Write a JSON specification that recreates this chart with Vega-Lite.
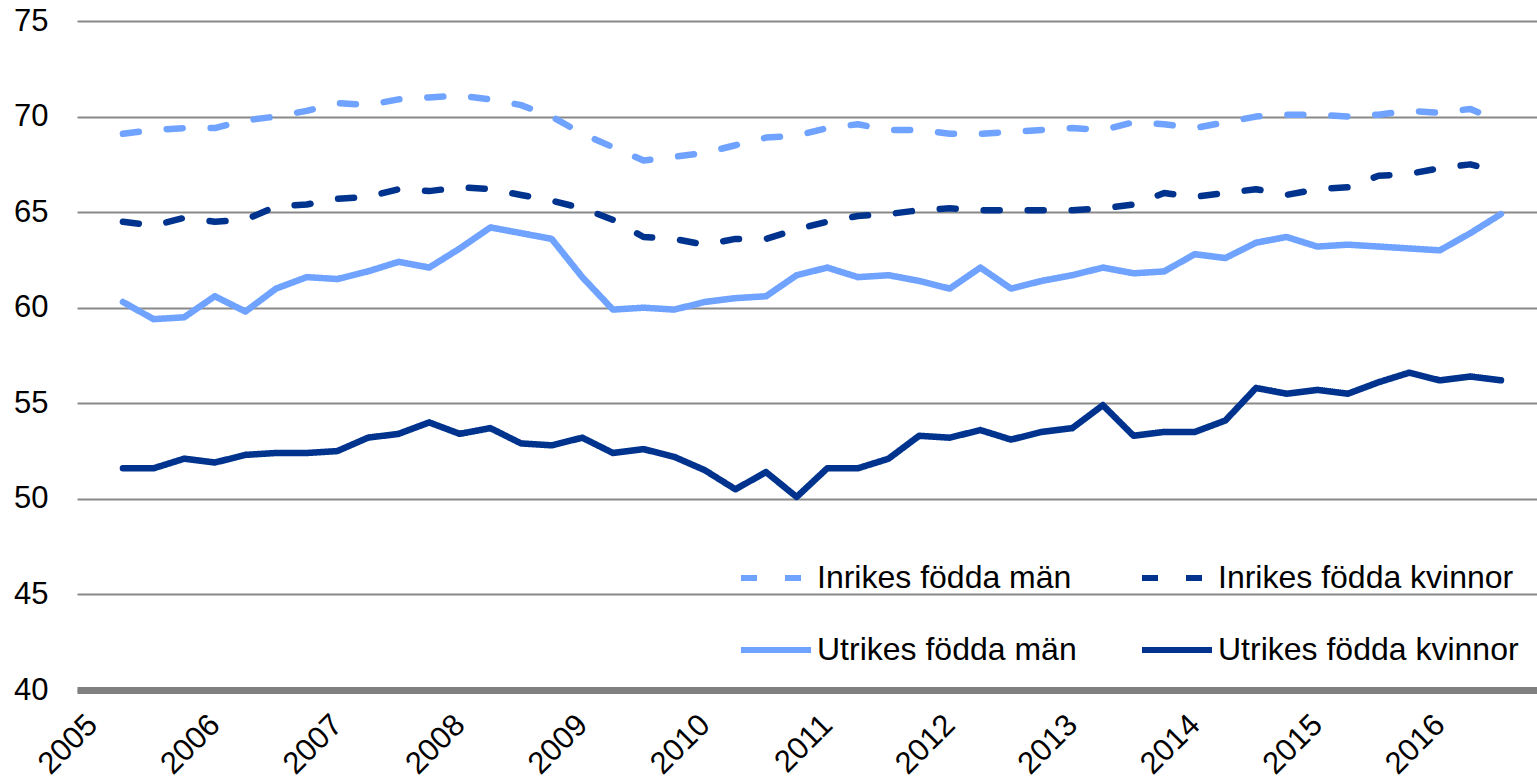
{
  "$schema": "https://vega.github.io/schema/vega-lite/v6.json",
  "width": 1460,
  "height": 669,
  "autosize": {"type": "none"},
  "padding": {"left": 77, "top": 21, "right": 0, "bottom": 92},
  "background": "white",
  "data": {"values": [
    {"t":2005.25,"serie":"Inrikes födda män","v":69.1},{"t":2005.5,"serie":"Inrikes födda män","v":69.3},{"t":2005.75,"serie":"Inrikes födda män","v":69.4},{"t":2006,"serie":"Inrikes födda män","v":69.4},
    {"t":2006.25,"serie":"Inrikes födda män","v":69.8},{"t":2006.5,"serie":"Inrikes födda män","v":70.0},{"t":2006.75,"serie":"Inrikes födda män","v":70.3},{"t":2007,"serie":"Inrikes födda män","v":70.7},
    {"t":2007.25,"serie":"Inrikes födda män","v":70.6},{"t":2007.5,"serie":"Inrikes födda män","v":70.9},{"t":2007.75,"serie":"Inrikes födda män","v":71.0},{"t":2008,"serie":"Inrikes födda män","v":71.1},
    {"t":2008.25,"serie":"Inrikes födda män","v":70.9},{"t":2008.5,"serie":"Inrikes födda män","v":70.6},{"t":2008.75,"serie":"Inrikes födda män","v":70.0},{"t":2009,"serie":"Inrikes födda män","v":69.1},
    {"t":2009.25,"serie":"Inrikes födda män","v":68.4},{"t":2009.5,"serie":"Inrikes födda män","v":67.7},{"t":2009.75,"serie":"Inrikes födda män","v":67.9},{"t":2010,"serie":"Inrikes födda män","v":68.1},
    {"t":2010.25,"serie":"Inrikes födda män","v":68.5},{"t":2010.5,"serie":"Inrikes födda män","v":68.9},{"t":2010.75,"serie":"Inrikes födda män","v":69.0},{"t":2011,"serie":"Inrikes födda män","v":69.4},
    {"t":2011.25,"serie":"Inrikes födda män","v":69.6},{"t":2011.5,"serie":"Inrikes födda män","v":69.3},{"t":2011.75,"serie":"Inrikes födda män","v":69.3},{"t":2012,"serie":"Inrikes födda män","v":69.1},
    {"t":2012.25,"serie":"Inrikes födda män","v":69.1},{"t":2012.5,"serie":"Inrikes födda män","v":69.2},{"t":2012.75,"serie":"Inrikes födda män","v":69.3},{"t":2013,"serie":"Inrikes födda män","v":69.4},
    {"t":2013.25,"serie":"Inrikes födda män","v":69.3},{"t":2013.5,"serie":"Inrikes födda män","v":69.7},{"t":2013.75,"serie":"Inrikes födda män","v":69.6},{"t":2014,"serie":"Inrikes födda män","v":69.4},
    {"t":2014.25,"serie":"Inrikes födda män","v":69.7},{"t":2014.5,"serie":"Inrikes födda män","v":70.0},{"t":2014.75,"serie":"Inrikes födda män","v":70.1},{"t":2015,"serie":"Inrikes födda män","v":70.1},
    {"t":2015.25,"serie":"Inrikes födda män","v":70.0},{"t":2015.5,"serie":"Inrikes födda män","v":70.1},{"t":2015.75,"serie":"Inrikes födda män","v":70.3},{"t":2016,"serie":"Inrikes födda män","v":70.2},
    {"t":2016.25,"serie":"Inrikes födda män","v":70.4},{"t":2016.5,"serie":"Inrikes födda män","v":69.7},

    {"t":2005.25,"serie":"Inrikes födda kvinnor","v":64.5},{"t":2005.5,"serie":"Inrikes födda kvinnor","v":64.3},{"t":2005.75,"serie":"Inrikes födda kvinnor","v":64.7},{"t":2006,"serie":"Inrikes födda kvinnor","v":64.5},
    {"t":2006.25,"serie":"Inrikes födda kvinnor","v":64.6},{"t":2006.5,"serie":"Inrikes födda kvinnor","v":65.3},{"t":2006.75,"serie":"Inrikes födda kvinnor","v":65.4},{"t":2007,"serie":"Inrikes födda kvinnor","v":65.7},
    {"t":2007.25,"serie":"Inrikes födda kvinnor","v":65.8},{"t":2007.5,"serie":"Inrikes födda kvinnor","v":66.2},{"t":2007.75,"serie":"Inrikes födda kvinnor","v":66.1},{"t":2008,"serie":"Inrikes födda kvinnor","v":66.3},
    {"t":2008.25,"serie":"Inrikes födda kvinnor","v":66.2},{"t":2008.5,"serie":"Inrikes födda kvinnor","v":65.9},{"t":2008.75,"serie":"Inrikes födda kvinnor","v":65.6},{"t":2009,"serie":"Inrikes födda kvinnor","v":65.2},
    {"t":2009.25,"serie":"Inrikes födda kvinnor","v":64.6},{"t":2009.5,"serie":"Inrikes födda kvinnor","v":63.7},{"t":2009.75,"serie":"Inrikes födda kvinnor","v":63.6},{"t":2010,"serie":"Inrikes födda kvinnor","v":63.3},
    {"t":2010.25,"serie":"Inrikes födda kvinnor","v":63.6},{"t":2010.5,"serie":"Inrikes födda kvinnor","v":63.6},{"t":2010.75,"serie":"Inrikes födda kvinnor","v":64.1},{"t":2011,"serie":"Inrikes födda kvinnor","v":64.5},
    {"t":2011.25,"serie":"Inrikes födda kvinnor","v":64.8},{"t":2011.5,"serie":"Inrikes födda kvinnor","v":64.9},{"t":2011.75,"serie":"Inrikes födda kvinnor","v":65.1},{"t":2012,"serie":"Inrikes födda kvinnor","v":65.2},
    {"t":2012.25,"serie":"Inrikes födda kvinnor","v":65.1},{"t":2012.5,"serie":"Inrikes födda kvinnor","v":65.1},{"t":2012.75,"serie":"Inrikes födda kvinnor","v":65.1},{"t":2013,"serie":"Inrikes födda kvinnor","v":65.1},
    {"t":2013.25,"serie":"Inrikes födda kvinnor","v":65.2},{"t":2013.5,"serie":"Inrikes födda kvinnor","v":65.4},{"t":2013.75,"serie":"Inrikes födda kvinnor","v":66.0},{"t":2014,"serie":"Inrikes födda kvinnor","v":65.8},
    {"t":2014.25,"serie":"Inrikes födda kvinnor","v":66.0},{"t":2014.5,"serie":"Inrikes födda kvinnor","v":66.2},{"t":2014.75,"serie":"Inrikes födda kvinnor","v":65.9},{"t":2015,"serie":"Inrikes födda kvinnor","v":66.2},
    {"t":2015.25,"serie":"Inrikes födda kvinnor","v":66.3},{"t":2015.5,"serie":"Inrikes födda kvinnor","v":66.9},{"t":2015.75,"serie":"Inrikes födda kvinnor","v":67.0},{"t":2016,"serie":"Inrikes födda kvinnor","v":67.3},
    {"t":2016.25,"serie":"Inrikes födda kvinnor","v":67.5},{"t":2016.5,"serie":"Inrikes födda kvinnor","v":67.1},

    {"t":2005.25,"serie":"Utrikes födda män","v":60.3},{"t":2005.5,"serie":"Utrikes födda män","v":59.4},{"t":2005.75,"serie":"Utrikes födda män","v":59.5},{"t":2006,"serie":"Utrikes födda män","v":60.6},
    {"t":2006.25,"serie":"Utrikes födda män","v":59.8},{"t":2006.5,"serie":"Utrikes födda män","v":61.0},{"t":2006.75,"serie":"Utrikes födda män","v":61.6},{"t":2007,"serie":"Utrikes födda män","v":61.5},
    {"t":2007.25,"serie":"Utrikes födda män","v":61.9},{"t":2007.5,"serie":"Utrikes födda män","v":62.4},{"t":2007.75,"serie":"Utrikes födda män","v":62.1},{"t":2008,"serie":"Utrikes födda män","v":63.1},
    {"t":2008.25,"serie":"Utrikes födda män","v":64.2},{"t":2008.5,"serie":"Utrikes födda män","v":63.9},{"t":2008.75,"serie":"Utrikes födda män","v":63.6},{"t":2009,"serie":"Utrikes födda män","v":61.6},
    {"t":2009.25,"serie":"Utrikes födda män","v":59.9},{"t":2009.5,"serie":"Utrikes födda män","v":60.0},{"t":2009.75,"serie":"Utrikes födda män","v":59.9},{"t":2010,"serie":"Utrikes födda män","v":60.3},
    {"t":2010.25,"serie":"Utrikes födda män","v":60.5},{"t":2010.5,"serie":"Utrikes födda män","v":60.6},{"t":2010.75,"serie":"Utrikes födda män","v":61.7},{"t":2011,"serie":"Utrikes födda män","v":62.1},
    {"t":2011.25,"serie":"Utrikes födda män","v":61.6},{"t":2011.5,"serie":"Utrikes födda män","v":61.7},{"t":2011.75,"serie":"Utrikes födda män","v":61.4},{"t":2012,"serie":"Utrikes födda män","v":61.0},
    {"t":2012.25,"serie":"Utrikes födda män","v":62.1},{"t":2012.5,"serie":"Utrikes födda män","v":61.0},{"t":2012.75,"serie":"Utrikes födda män","v":61.4},{"t":2013,"serie":"Utrikes födda män","v":61.7},
    {"t":2013.25,"serie":"Utrikes födda män","v":62.1},{"t":2013.5,"serie":"Utrikes födda män","v":61.8},{"t":2013.75,"serie":"Utrikes födda män","v":61.9},{"t":2014,"serie":"Utrikes födda män","v":62.8},
    {"t":2014.25,"serie":"Utrikes födda män","v":62.6},{"t":2014.5,"serie":"Utrikes födda män","v":63.4},{"t":2014.75,"serie":"Utrikes födda män","v":63.7},{"t":2015,"serie":"Utrikes födda män","v":63.2},
    {"t":2015.25,"serie":"Utrikes födda män","v":63.3},{"t":2015.5,"serie":"Utrikes födda män","v":63.2},{"t":2015.75,"serie":"Utrikes födda män","v":63.1},{"t":2016,"serie":"Utrikes födda män","v":63.0},
    {"t":2016.25,"serie":"Utrikes födda män","v":63.9},{"t":2016.5,"serie":"Utrikes födda män","v":64.9},

    {"t":2005.25,"serie":"Utrikes födda kvinnor","v":51.6},{"t":2005.5,"serie":"Utrikes födda kvinnor","v":51.6},{"t":2005.75,"serie":"Utrikes födda kvinnor","v":52.1},{"t":2006,"serie":"Utrikes födda kvinnor","v":51.9},
    {"t":2006.25,"serie":"Utrikes födda kvinnor","v":52.3},{"t":2006.5,"serie":"Utrikes födda kvinnor","v":52.4},{"t":2006.75,"serie":"Utrikes födda kvinnor","v":52.4},{"t":2007,"serie":"Utrikes födda kvinnor","v":52.5},
    {"t":2007.25,"serie":"Utrikes födda kvinnor","v":53.2},{"t":2007.5,"serie":"Utrikes födda kvinnor","v":53.4},{"t":2007.75,"serie":"Utrikes födda kvinnor","v":54.0},{"t":2008,"serie":"Utrikes födda kvinnor","v":53.4},
    {"t":2008.25,"serie":"Utrikes födda kvinnor","v":53.7},{"t":2008.5,"serie":"Utrikes födda kvinnor","v":52.9},{"t":2008.75,"serie":"Utrikes födda kvinnor","v":52.8},{"t":2009,"serie":"Utrikes födda kvinnor","v":53.2},
    {"t":2009.25,"serie":"Utrikes födda kvinnor","v":52.4},{"t":2009.5,"serie":"Utrikes födda kvinnor","v":52.6},{"t":2009.75,"serie":"Utrikes födda kvinnor","v":52.2},{"t":2010,"serie":"Utrikes födda kvinnor","v":51.5},
    {"t":2010.25,"serie":"Utrikes födda kvinnor","v":50.5},{"t":2010.5,"serie":"Utrikes födda kvinnor","v":51.4},{"t":2010.75,"serie":"Utrikes födda kvinnor","v":50.1},{"t":2011,"serie":"Utrikes födda kvinnor","v":51.6},
    {"t":2011.25,"serie":"Utrikes födda kvinnor","v":51.6},{"t":2011.5,"serie":"Utrikes födda kvinnor","v":52.1},{"t":2011.75,"serie":"Utrikes födda kvinnor","v":53.3},{"t":2012,"serie":"Utrikes födda kvinnor","v":53.2},
    {"t":2012.25,"serie":"Utrikes födda kvinnor","v":53.6},{"t":2012.5,"serie":"Utrikes födda kvinnor","v":53.1},{"t":2012.75,"serie":"Utrikes födda kvinnor","v":53.5},{"t":2013,"serie":"Utrikes födda kvinnor","v":53.7},
    {"t":2013.25,"serie":"Utrikes födda kvinnor","v":54.9},{"t":2013.5,"serie":"Utrikes födda kvinnor","v":53.3},{"t":2013.75,"serie":"Utrikes födda kvinnor","v":53.5},{"t":2014,"serie":"Utrikes födda kvinnor","v":53.5},
    {"t":2014.25,"serie":"Utrikes födda kvinnor","v":54.1},{"t":2014.5,"serie":"Utrikes födda kvinnor","v":55.8},{"t":2014.75,"serie":"Utrikes födda kvinnor","v":55.5},{"t":2015,"serie":"Utrikes födda kvinnor","v":55.7},
    {"t":2015.25,"serie":"Utrikes födda kvinnor","v":55.5},{"t":2015.5,"serie":"Utrikes födda kvinnor","v":56.1},{"t":2015.75,"serie":"Utrikes födda kvinnor","v":56.6},{"t":2016,"serie":"Utrikes födda kvinnor","v":56.2},
    {"t":2016.25,"serie":"Utrikes födda kvinnor","v":56.4},{"t":2016.5,"serie":"Utrikes födda kvinnor","v":56.2}
  ]},
  "mark": {"type": "line", "strokeWidth": 6.5, "strokeCap": "round", "strokeJoin": "round", "clip": false},
  "encoding": {
    "x": {
      "field": "t", "type": "quantitative",
      "scale": {"domain": [2004.875, 2016.794], "nice": false, "zero": false},
      "axis": {
        "values": [2005, 2006, 2007, 2008, 2009, 2010, 2011, 2012, 2013, 2014, 2015, 2016],
        "format": "d", "labelAngle": -45, "labelAlign": "right", "labelBaseline": "middle",
        "labelPadding": 30, "ticks": false, "tickSize": 0, "grid": false,
        "domainColor": "#808080", "domainWidth": 7, "labelFontSize": 31,
        "title": null, "labelOverlap": false, "labelFlush": false
      }
    },
    "y": {
      "field": "v", "type": "quantitative",
      "scale": {"domain": [40, 75], "nice": false, "zero": false},
      "axis": {
        "values": [40, 45, 50, 55, 60, 65, 70, 75],
        "grid": true, "gridColor": "#898989", "gridWidth": 2,
        "domain": false, "ticks": false, "tickSize": 0, "labelPadding": 29,
        "labelFontSize": 31, "title": null
      }
    },
    "color": {
      "field": "serie", "type": "nominal",
      "scale": {
        "domain": ["Inrikes födda män", "Inrikes födda kvinnor", "Utrikes födda män", "Utrikes födda kvinnor"],
        "range": ["#6FA3FF", "#00338D", "#6FA3FF", "#00338D"]
      },
      "legend": {"title": null}
    },
    "strokeDash": {
      "field": "serie", "type": "nominal",
      "scale": {
        "domain": ["Inrikes födda män", "Inrikes födda kvinnor", "Utrikes födda män", "Utrikes födda kvinnor"],
        "range": [[16, 28], [16, 28], [1, 0], [1, 0]]
      },
      "legend": {"title": null}
    }
  },
  "config": {
    "view": {"stroke": null},
    "font": "Liberation Sans",
    "axis": {"labelColor": "#000000", "labelFont": "Liberation Sans"},
    "legend": {
      "orient": "none", "legendX": 661, "legendY": 519, "columns": 2, "direction": "horizontal",
      "symbolType": "stroke", "symbolSize": 4900, "symbolStrokeWidth": 6,
      "labelFontSize": 32, "labelFont": "Liberation Sans", "labelColor": "#000000",
      "labelOffset": 3, "columnPadding": 53, "rowPadding": 18, "labelLimit": 0, "padding": 0
    }
  }
}
